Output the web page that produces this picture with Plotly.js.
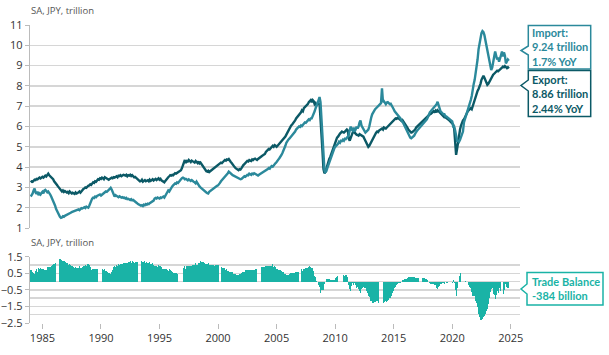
<!DOCTYPE html>
<html><head><meta charset="utf-8">
<script src="https://cdn.plot.ly/plotly-3.0.1.min.js"></script>
<style>html,body{margin:0;padding:0;background:#fff}</style>
</head><body><div id="chart" style="width:609px;height:355px"></div>
<script>
// Monthly, seasonally adjusted, JPY trillion, Jan 1984 - Nov 2024
const startYear = 1984;
const exportsJPY = [
3.25,3.30,3.28,3.35,3.38,3.36,3.42,3.40,3.45,3.48,3.44,3.50,
3.52,3.48,3.55,3.58,3.54,3.62,3.68,3.60,3.55,3.50,3.45,3.40,
3.30,3.25,3.18,3.12,3.05,3.00,2.92,2.85,2.80,2.85,2.78,2.82,
2.80,2.75,2.78,2.72,2.80,2.76,2.70,2.74,2.72,2.68,2.75,2.70,
2.72,2.76,2.80,2.74,2.82,2.86,2.92,2.95,3.00,2.98,3.05,3.08,
3.10,3.15,3.12,3.20,3.25,3.22,3.30,3.28,3.35,3.40,3.38,3.45,
3.42,3.48,3.45,3.40,3.50,3.46,3.44,3.40,3.38,3.42,3.45,3.48,
3.45,3.50,3.48,3.52,3.55,3.50,3.58,3.56,3.60,3.55,3.58,3.62,
3.60,3.58,3.62,3.55,3.60,3.58,3.62,3.56,3.60,3.55,3.50,3.52,
3.48,3.42,3.38,3.35,3.30,3.32,3.38,3.28,3.32,3.36,3.30,3.34,
3.35,3.30,3.38,3.32,3.36,3.40,3.34,3.38,3.42,3.36,3.40,3.45,
3.38,3.42,3.35,3.30,3.28,3.25,3.32,3.40,3.45,3.50,3.55,3.60,
3.58,3.62,3.60,3.65,3.70,3.68,3.72,3.75,3.78,3.80,3.85,3.95,
4.10,4.25,4.35,4.20,4.30,4.28,4.35,4.30,4.25,4.32,4.28,4.25,
4.22,4.30,4.25,4.20,4.28,4.18,4.22,4.15,4.10,4.05,3.98,3.85,
3.80,3.78,3.82,3.76,3.80,3.85,3.88,3.92,3.95,4.00,4.05,4.08,
4.10,4.15,4.18,4.22,4.20,4.28,4.30,4.35,4.32,4.38,4.36,4.40,
4.30,4.25,4.20,4.15,4.05,4.00,3.95,3.90,3.88,3.85,3.90,3.88,
3.95,4.05,4.10,4.15,4.20,4.25,4.30,4.28,4.35,4.32,4.30,4.38,
4.35,4.40,4.42,4.38,4.35,4.40,4.45,4.48,4.50,4.55,4.58,4.60,
4.65,4.75,4.80,4.85,4.90,4.88,4.95,5.00,5.05,5.00,5.08,5.05,
5.00,5.05,5.10,5.15,5.20,5.25,5.30,5.35,5.40,5.50,5.60,5.70,
5.75,5.85,5.95,6.05,6.10,6.15,6.20,6.30,6.40,6.45,6.50,6.55,
6.60,6.70,6.80,6.75,6.90,6.95,7.00,7.05,7.10,7.20,7.25,7.30,
7.20,7.30,7.25,7.10,7.15,7.05,7.10,7.10,7.15,6.50,5.70,4.80,
3.90,3.70,3.75,3.95,4.10,4.25,4.40,4.50,4.65,4.78,4.88,5.00,
5.20,5.35,5.45,5.50,5.60,5.65,5.70,5.75,5.72,5.70,5.75,5.80,
5.85,5.80,5.40,5.30,5.45,5.60,5.70,5.75,5.68,5.65,5.60,5.58,
5.55,5.62,5.60,5.58,5.55,5.50,5.40,5.30,5.20,5.10,5.00,5.05,
5.15,5.25,5.30,5.40,5.55,5.60,5.70,5.75,5.72,5.80,5.85,5.88,
5.90,5.85,5.95,5.92,5.90,5.95,6.00,6.05,6.10,6.15,6.20,6.25,
6.30,6.35,6.40,6.38,6.42,6.40,6.35,6.30,6.28,6.32,6.25,6.20,
6.10,6.00,5.95,5.85,5.80,5.75,5.70,5.72,5.75,5.80,5.85,5.95,
6.00,6.05,6.10,6.15,6.20,6.25,6.30,6.35,6.40,6.42,6.50,6.55,
6.55,6.60,6.62,6.65,6.70,6.75,6.72,6.78,6.70,6.80,6.75,6.70,
6.60,6.55,6.55,6.50,6.45,6.45,6.40,6.35,6.35,6.30,6.25,6.20,
6.15,6.10,5.90,5.30,4.60,4.90,5.30,5.60,5.85,6.05,6.20,6.30,
6.35,6.45,6.60,6.70,6.75,6.80,6.85,6.90,6.85,7.00,7.20,7.40,
7.45,7.60,7.75,7.85,7.95,8.10,8.30,8.45,8.50,8.40,8.30,8.20,
8.05,8.10,8.20,8.30,8.35,8.50,8.55,8.60,8.65,8.70,8.75,8.72,
8.78,8.80,8.85,8.90,8.95,8.92,8.98,8.95,8.88,8.92,8.856
];
const importsJPY = [
2.55,2.62,2.70,2.85,2.95,2.75,2.68,2.80,2.62,2.70,2.65,2.72,
2.78,2.70,2.85,2.88,2.82,2.76,2.80,2.74,2.65,2.55,2.45,2.35,
2.25,2.10,1.95,1.85,1.72,1.60,1.55,1.50,1.52,1.58,1.55,1.60,
1.62,1.65,1.68,1.70,1.72,1.75,1.78,1.80,1.82,1.85,1.88,1.86,
1.90,1.92,1.88,1.95,1.98,1.96,2.00,2.02,1.98,2.05,2.02,2.00,
2.10,2.25,2.40,2.45,2.50,2.48,2.55,2.52,2.58,2.60,2.62,2.65,
2.60,2.65,2.68,2.72,2.75,2.80,2.78,2.85,2.88,2.92,2.98,2.90,
2.75,2.60,2.55,2.62,2.58,2.55,2.52,2.56,2.54,2.50,2.52,2.48,
2.50,2.45,2.48,2.42,2.44,2.40,2.38,2.42,2.36,2.38,2.35,2.32,
2.28,2.22,2.18,2.15,2.12,2.10,2.12,2.08,2.15,2.12,2.18,2.15,
2.20,2.18,2.22,2.25,2.28,2.30,2.35,2.45,2.48,2.45,2.50,2.48,
2.45,2.50,2.48,2.52,2.55,2.50,2.58,2.65,2.75,2.85,2.80,2.90,
2.95,3.05,3.10,3.15,3.20,3.18,3.25,3.22,3.30,3.35,3.40,3.45,
3.48,3.45,3.40,3.42,3.38,3.35,3.40,3.38,3.32,3.36,3.30,3.28,
3.25,3.20,3.28,3.18,3.15,3.05,3.00,2.95,2.90,2.88,2.85,2.80,
2.75,2.72,2.70,2.78,2.82,2.85,2.90,2.95,3.00,3.02,3.05,3.08,
3.10,3.15,3.22,3.30,3.35,3.45,3.50,3.55,3.60,3.65,3.70,3.78,
3.72,3.70,3.65,3.60,3.58,3.55,3.52,3.50,3.48,3.45,3.42,3.40,
3.42,3.45,3.50,3.55,3.52,3.58,3.62,3.60,3.68,3.65,3.62,3.68,
3.65,3.70,3.68,3.62,3.60,3.58,3.62,3.65,3.68,3.70,3.72,3.75,
3.78,3.82,3.85,3.90,3.95,3.92,4.00,4.05,4.02,4.10,4.15,4.20,
4.25,4.30,4.38,4.45,4.50,4.60,4.70,4.80,4.95,5.05,5.20,5.30,
5.35,5.40,5.45,5.55,5.60,5.65,5.70,5.75,5.85,5.90,5.95,6.00,
5.98,6.05,6.02,6.10,6.15,6.20,6.18,6.25,6.30,6.35,6.32,6.40,
6.40,6.50,6.60,6.75,6.90,7.00,7.15,7.30,7.45,7.20,6.20,5.30,
4.40,3.85,3.75,3.80,3.95,4.10,4.25,4.40,4.55,4.70,4.80,4.90,
5.00,5.05,5.10,5.15,5.25,5.20,5.30,5.28,5.35,5.30,5.40,5.38,
5.45,5.50,5.60,5.75,6.00,5.85,5.80,5.95,5.75,5.85,6.00,5.90,
6.00,6.20,6.30,6.05,5.95,5.85,5.80,5.70,5.75,5.80,5.85,6.00,
6.30,6.45,6.60,6.70,6.80,6.85,6.90,6.95,7.00,7.05,7.10,7.15,
7.88,7.20,7.25,7.15,7.10,7.18,7.20,7.15,7.10,7.12,7.05,6.95,
6.85,6.75,6.70,6.60,6.55,6.50,6.45,6.40,6.30,6.25,6.15,6.05,
5.95,5.85,5.75,5.60,5.50,5.45,5.42,5.45,5.50,5.55,5.65,5.75,
5.80,5.85,5.90,5.95,6.00,6.05,6.10,6.15,6.20,6.25,6.35,6.45,
6.60,6.70,6.75,6.80,6.85,6.90,6.95,7.00,7.10,7.22,7.05,6.95,
6.75,6.70,6.65,6.60,6.60,6.50,6.50,6.45,6.40,6.35,6.30,6.25,
6.25,6.00,6.00,5.80,5.50,5.30,5.30,5.25,5.35,5.50,5.60,5.75,
6.20,6.35,6.55,6.70,6.80,7.00,7.15,7.30,7.50,7.90,8.10,8.30,
8.60,8.90,9.30,9.80,10.10,10.40,10.60,10.70,10.65,10.50,10.26,10.00,
9.70,9.44,9.20,8.95,8.78,8.90,9.30,9.44,9.69,9.50,9.30,9.40,
9.19,9.35,9.60,9.69,9.45,9.65,9.50,9.11,9.20,9.30,9.24
];
const xTickVals = ['1985-01-01','1990-01-01','1995-01-01','2000-01-01','2005-01-01','2010-01-01','2015-01-01','2020-01-01','2025-01-01'];
const xTickText = ['1985','1990','1995','2000','2005','2010','2015','2020','2025'];
const topTicks = [1,2,3,4,5,6,7,8,9,10,11];
const axisNote = 'SA, JPY, trillion';
const importLabel = ['Import:', '9.24 trillion', '1.7% YoY'];
const exportLabel = ['Export:', '8.86 trillion', '2.44% YoY'];
const balanceLabel = ['Trade Balance', '-384 billion'];

const cExport = '#0b5966', cImport = '#2b899b', cBal = '#1ab3a6';
const dates = exportsJPY.map((_, i) => {
  const y = startYear + Math.floor(i / 12), m = (i % 12) + 1;
  return y + '-' + (m < 10 ? '0' + m : m) + '-01';
});
const balance = exportsJPY.map((v, i) => +(v - importsJPY[i]).toFixed(3));

const W = 609, H = 355, ML = 30, MR = 89, MT = 25, MB = 32;
const PW = W - ML - MR, PH = H - MT - MB;
const px = p => (p - ML) / PW;
const py = p => 1 - (p - MT) / PH;
const FONT = 'Open Sans, Noto Sans, sans-serif';
const LFONT = 'Lato, Open Sans, sans-serif';

const traces = [
  {x: dates, y: exportsJPY, type: 'scatter', mode: 'lines', xaxis: 'x', yaxis: 'y',
   line: {color: cExport, width: 2.4}, hoverinfo: 'skip'},
  {x: dates, y: importsJPY, type: 'scatter', mode: 'lines', xaxis: 'x', yaxis: 'y',
   line: {color: cImport, width: 2.4}, hoverinfo: 'skip'},
  {x: dates, y: balance, type: 'bar', xaxis: 'x', yaxis: 'y2',
   marker: {color: cBal, line: {width: 0}}, hoverinfo: 'skip'}
];

function callout(L, R, T, B, tipX, tipY, b1, b2, col) {
  const p = 'M ' + px(L) + ' ' + py(T) + ' L ' + px(R) + ' ' + py(T) + ' L ' + px(R) + ' ' + py(B) +
            ' L ' + px(L) + ' ' + py(B) + ' L ' + px(L) + ' ' + py(b2) + ' L ' + px(tipX) + ' ' + py(tipY) +
            ' L ' + px(L) + ' ' + py(b1) + ' Z';
  return {type: 'path', xref: 'paper', yref: 'paper', path: p, fillcolor: '#ffffff',
          line: {color: col, width: 1.5}, layer: 'above'};
}
const shapes = [
  callout(528.3, 590.7, 25.5, 69, 521, 50.5, 46, 55, cImport),
  callout(528.3, 590.7, 70.5, 116.5, 521, 85.5, 80, 91, cExport),
  callout(527, 603, 272.5, 305, 521, 289, 284, 294, cBal)
];
const annotations = [];
function addBlock(lines, yCenter, col) {
  annotations.push({text: lines.join('<br>'), xref: 'paper', yref: 'paper',
    x: px(531), y: py(yCenter), xanchor: 'left', yanchor: 'middle', align: 'left',
    showarrow: false, borderpad: 0,
    font: {family: LFONT, size: 11, color: col, weight: 'bold'}});
}
addBlock(importLabel, 47.3, cImport);
addBlock(exportLabel, 93.5, cExport);
addBlock(balanceLabel, 288.5, cBal);
annotations.push({text: axisNote, xref: 'paper', yref: 'paper', x: px(29), y: py(10.5),
  xanchor: 'left', yanchor: 'middle', showarrow: false, font: {family: FONT, size: 9.5, color: '#555'}});
annotations.push({text: axisNote, xref: 'paper', yref: 'paper', x: px(29), y: py(242),
  xanchor: 'left', yanchor: 'middle', showarrow: false, font: {family: FONT, size: 9.5, color: '#555'}});

const gridC = '#d6d6d6';
const layout = {
  width: W, height: H, margin: {l: ML, r: MR, t: MT, b: MB},
  paper_bgcolor: '#fff', plot_bgcolor: '#fff', showlegend: false, bargap: 0,
  font: {family: FONT, size: 11, color: '#333'},
  xaxis: {type: 'date', anchor: 'y2', range: ['1983-12-10', '2025-10-15'],
    tickvals: xTickVals, ticktext: xTickText, ticks: 'outside', ticklen: 5, tickcolor: '#bbb',
    showgrid: false, showline: false, zeroline: false, tickfont: {size: 11, color: '#333'}},
  yaxis: {domain: [py(228), 1], range: [1, 11], tickvals: topTicks, ticks: 'outside', ticklen: 4,
    tickcolor: '#bbb', showline: true, linecolor: '#bbb', linewidth: 1.2, gridcolor: gridC,
    gridwidth: 1.5, zeroline: false, tickfont: {size: 11, color: '#333'}},
  yaxis2: {domain: [0, py(256.7)], range: [-2.5, 1.5], tick0: -2.5, dtick: 1, ticks: 'outside',
    ticklen: 4, tickcolor: '#bbb', showline: true, linecolor: '#bbb', linewidth: 1.2,
    gridcolor: gridC, gridwidth: 1.5, zeroline: false, tickfont: {size: 11, color: '#333'},
    minor: {dtick: 0.5, tick0: -2.5, showgrid: true, gridcolor: gridC, gridwidth: 1.5, ticks: ''}},
  shapes: shapes, annotations: annotations
};
Plotly.newPlot('chart', traces, layout, {staticPlot: true, displayModeBar: false});
</script>
</body></html>
